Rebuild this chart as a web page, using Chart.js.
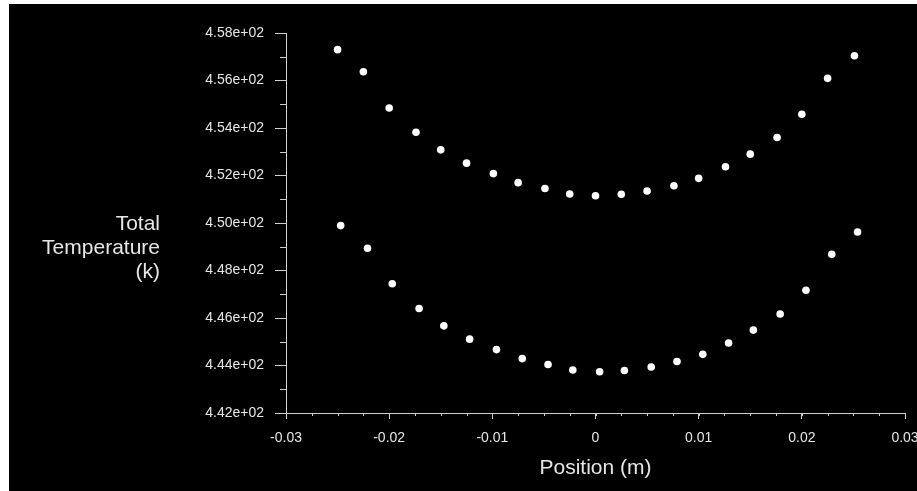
<!DOCTYPE html>
<html>
<head>
<meta charset="utf-8">
<script src="https://cdn.jsdelivr.net/npm/chart.js@4/dist/chart.umd.min.js"></script>
<style>
  html, body { margin: 0; padding: 0; background: #ffffff; }
  #wrap { position: absolute; left: 9px; top: 4px; width: 908px; height: 487px; background: #000000; }
  canvas { display: block; }
</style>
</head>
<body>
<div id="wrap"><canvas id="chart" width="908" height="487"></canvas></div>
<script>
// positions along the line (m)
var upperX = [-0.025, -0.0225, -0.02, -0.0174, -0.015, -0.0125, -0.0099, -0.0075, -0.0049, -0.0025,
	0.0, 0.0025, 0.005, 0.0076, 0.01, 0.0126, 0.015, 0.0176, 0.02, 0.0225, 0.0251];
var upperT = [457.30, 456.37, 454.84, 453.82, 453.08, 452.52, 452.08, 451.70, 451.45, 451.22,
	451.15, 451.21, 451.35, 451.57, 451.88, 452.37, 452.90, 453.60, 454.58, 456.09, 457.04];

var lowerX = [-0.0247, -0.0221, -0.0197, -0.0171, -0.0147, -0.0122, -0.0096, -0.0071, -0.0046, -0.0022,
	0.0004, 0.0028, 0.0054, 0.0079, 0.0104, 0.0129, 0.0153, 0.0179, 0.0204, 0.0229, 0.0254];
var lowerT = [449.89, 448.94, 447.44, 446.40, 445.67, 445.11, 444.67, 444.29, 444.04, 443.81,
	443.74, 443.79, 443.94, 444.17, 444.47, 444.95, 445.49, 446.17, 447.17, 448.68, 449.62];

var yTitleLines = ['Total', 'Temperature', '(k)'];
var xTitle = 'Position (m)';

var axisColor = '#cfcfcf';
var textColor = '#e6e6e6';
var fontFamily = '"Liberation Sans", Arial, sans-serif';

function toPoints(xs, ys) {
	var pts = [];
	for (var i = 0; i < xs.length; i++) {
		pts.push({x: xs[i], y: ys[i]});
	}
	return pts;
}

// small ticks between the labelled ones, and the left hand title
var extrasPlugin = {
	id: 'extras',
	afterDraw: function(chart) {
		var ctx = chart.ctx;
		var xs = chart.scales.x, ys = chart.scales.y;
		var area = chart.chartArea;
		ctx.save();
		ctx.strokeStyle = axisColor;
		ctx.lineWidth = 1;
		ctx.beginPath();
		for (var v = -0.03; v <= 0.0301; v += 0.0025) {
			var px = Math.round(xs.getPixelForValue(v)) + 0.5;
			ctx.moveTo(px, area.bottom);
			ctx.lineTo(px, area.bottom + 3);
		}
		for (var t = 443; t < 458; t += 2) {
			var py = Math.round(ys.getPixelForValue(t)) + 0.5;
			ctx.moveTo(area.left, py);
			ctx.lineTo(area.left - 6, py);
		}
		ctx.stroke();

		ctx.fillStyle = textColor;
		ctx.font = '21px ' + fontFamily;
		ctx.textAlign = 'right';
		ctx.textBaseline = 'middle';
		for (var i = 0; i < yTitleLines.length; i++) {
			ctx.fillText(yTitleLines[i], 151, 220 + i * 24);
		}
		ctx.restore();
	}
};

var config = {
	type: 'scatter',
	data: {
		datasets: [{
			data: toPoints(upperX, upperT),
			backgroundColor: '#ffffff',
			borderColor: '#ffffff',
			pointRadius: 3.8,
			borderWidth: 0
		}, {
			data: toPoints(lowerX, lowerT),
			backgroundColor: '#ffffff',
			borderColor: '#ffffff',
			pointRadius: 3.8,
			borderWidth: 0
		}]
	},
	options: {
		responsive: false,
		animation: false,
		layout: { padding: { left: 0, top: 29, right: 12, bottom: 0 } },
		plugins: {
			legend: { display: false },
			tooltip: { enabled: false }
		},
		scales: {
			x: {
				type: 'linear',
				min: -0.03,
				max: 0.03,
				grid: { display: true, drawOnChartArea: false, tickLength: 6, color: axisColor },
				border: { display: true, color: axisColor, width: 1 },
				ticks: {
					stepSize: 0.01,
					color: textColor,
					padding: 11,
					maxRotation: 0,
					font: { family: fontFamily, size: 14 },
					callback: function(value) {
						return String(Number(Number(value).toFixed(2)));
					}
				},
				title: {
					display: true,
					text: xTitle,
					color: textColor,
					font: { family: fontFamily, size: 21 },
					padding: { top: 0, bottom: 10 }
				},
				afterFit: function(scale) {
					scale.height = 78;
					scale.paddingLeft = 0;
					scale.paddingRight = 0;
				}
			},
			y: {
				type: 'linear',
				min: 442,
				max: 458,
				grid: { display: true, drawOnChartArea: false, tickLength: 11, color: axisColor },
				border: { display: true, color: axisColor, width: 1 },
				ticks: {
					stepSize: 2,
					color: textColor,
					padding: 11,
					font: { family: fontFamily, size: 14 },
					callback: function(value) {
						return Number(value).toExponential(2).replace(/e([+-])(\d)$/, 'e$10$2');
					}
				},
				afterFit: function(scale) {
					scale.width = 277;
					scale.paddingTop = 0;
					scale.paddingBottom = 0;
				}
			}
		}
	},
	plugins: [extrasPlugin]
};

var ctx = document.getElementById('chart').getContext('2d');
new Chart(ctx, config);
</script>
</body>
</html>
